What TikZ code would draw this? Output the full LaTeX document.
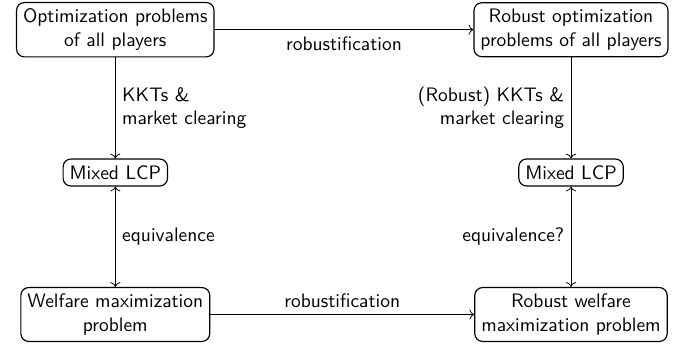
\documentclass[tikz,border=0pt]{standalone}
\usetikzlibrary{arrows.meta}
\begin{document}
\begin{tikzpicture}[x=0.5128pt,y=-0.5128pt,font=\sffamily,
  box/.style={draw,line width=0.6pt,rounded corners=4pt,align=center,inner sep=3.33pt},
  conn/.style={->},
  dconn/.style={<->}]
\useasboundingbox (0,0) rectangle (689,346);
\node[box] (A) at (115.3,29.7) {Optimization problems\\of all players};
\node[box] (B) at (571,29.7) {Robust optimization\\problems of all players};
\node[box] (C) at (115.3,172.5) {Mixed LCP};
\node[box] (D) at (571,172.5) {Mixed LCP};
\node[box] (E) at (115.3,314.5) {Welfare maximization\\problem};
\node[box] (F) at (571,314.5) {Robust welfare\\maximization problem};
\draw[conn] (A) -- node[midway,below] (l1) {robustification} (B);
\draw[conn] (E) -- node[midway,above] (l2) {robustification} (F);
\draw[conn] (A) -- node[midway,right,align=left] (l3) {KKTs \&\\market clearing} (C);
\draw[conn] (B) -- node[midway,left,align=right] (l4) {(Robust) KKTs \&\\market clearing} (D);
\draw[dconn] (C) -- node[midway,right] (l5) {equivalence} (E);
\draw[dconn] (D) -- node[midway,left] (l6) {equivalence?} (F);
\end{tikzpicture}
\end{document}
